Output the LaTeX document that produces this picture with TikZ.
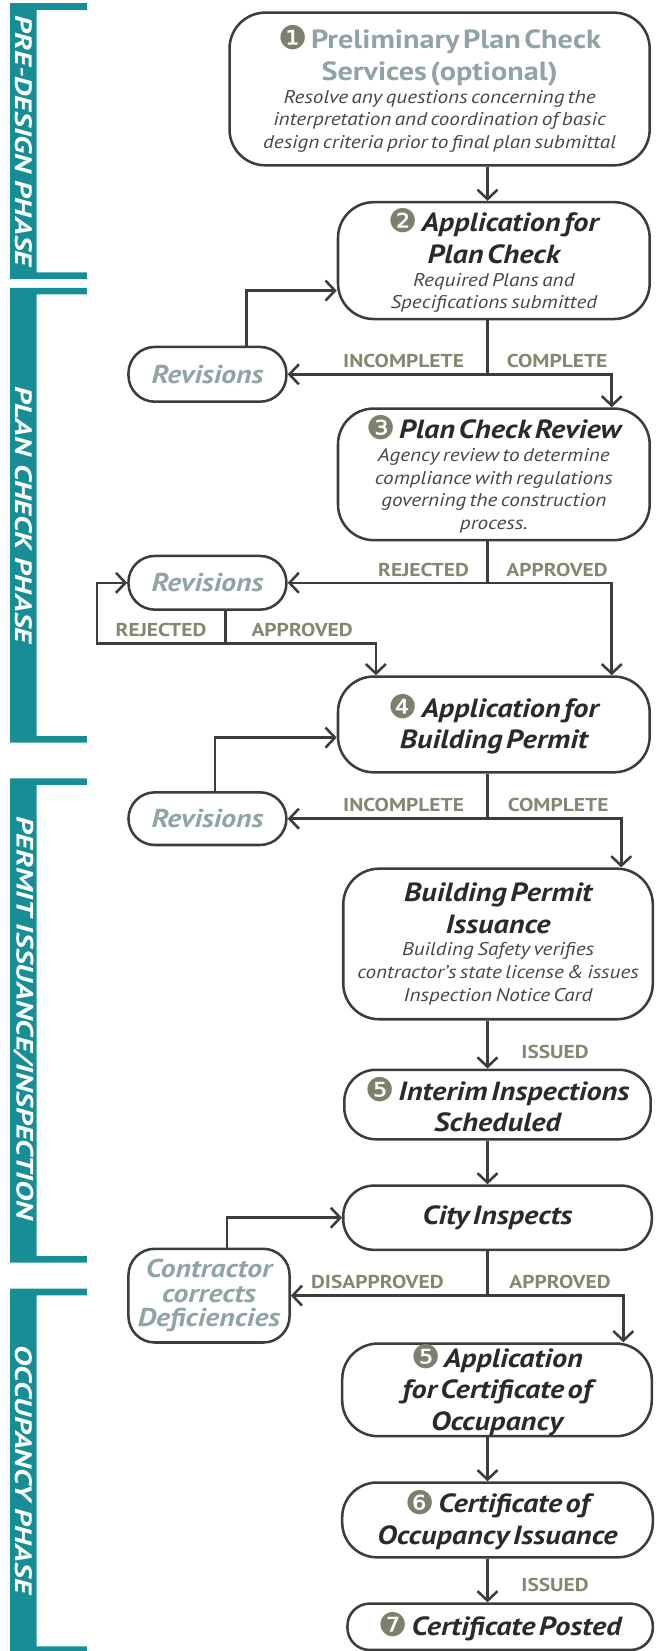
\documentclass[tikz,border=0pt]{standalone}
\usepackage{fontspec}
\setmainfont{PT Sans}[FakeStretch=1.15]
\newfontfamily\phasefont{PT Sans}[FakeStretch=1.3]
\newfontfamily\dingfont{DejaVu Sans}
\usetikzlibrary{arrows.meta,positioning,calc}

\definecolor{phaseteal}{HTML}{178E96}
\definecolor{linegrey}{HTML}{3A3C3E}
\definecolor{lblolive}{HTML}{868772}
\definecolor{numgrey}{HTML}{7E7F6C}
\definecolor{softteal}{HTML}{8FA4A5}
\definecolor{descgrey}{HTML}{474747}
\definecolor{titleblack}{HTML}{2A2A2A}

\newcommand{\stepno}[1]{{\dingfont\upshape\mdseries\fontsize{31}{26}\selectfont\color{numgrey}\raisebox{-1pt}{#1}}}
\newcommand{\ttl}{\bfseries\itshape\fontsize{25}{30}\selectfont}
\newcommand{\dsc}{\mdseries\itshape\fontsize{17.5}{21.5}\selectfont\color{descgrey}}

\begin{document}
\begin{tikzpicture}[x=1pt,y=-1pt,
    box/.style={draw=linegrey,line width=2.4pt,rounded corners=34pt,align=center,inner sep=0pt,text=titleblack},
    rev/.style={draw=linegrey,line width=2.4pt,rounded corners=25pt,align=center,inner sep=0pt,minimum width=150pt,text=softteal,font=\bfseries\itshape\fontsize{24.5}{23}\selectfont},
    link/.style={draw=linegrey,line width=2.4pt},
    arr/.style={link,-{Straight Barb[length=9pt,width=19pt]}},
    lbl/.style={inner sep=5pt,text=lblolive,font=\bfseries\fontsize{17.7}{17.7}\selectfont},
    phase/.style={rotate=-90,inner sep=0pt,text=white,font=\phasefont\bfseries\itshape\fontsize{22.5}{22.5}\selectfont}]

	\useasboundingbox (0,0) rectangle (624,1568);

	\fill[phaseteal] (9.5,3) -- (82.6,3) -- (82.6,9.3) -- (34.9,9.3) -- (34.9,258.7) -- (82.6,258.7) -- (82.6,265) -- (9.5,265) -- cycle;
	\fill[phaseteal] (9.5,273.3) -- (82.6,273.3) -- (82.6,279.6) -- (34.9,279.6) -- (34.9,699.1) -- (82.6,699.1) -- (82.6,705.4) -- (9.5,705.4) -- cycle;
	\fill[phaseteal] (9.5,739.2) -- (82.6,739.2) -- (82.6,745.5) -- (34.9,745.5) -- (34.9,1192.9) -- (82.6,1192.9) -- (82.6,1199.2) -- (9.5,1199.2) -- cycle;
	\fill[phaseteal] (9.5,1223.9) -- (82.6,1223.9) -- (82.6,1230.2) -- (34.9,1230.2) -- (34.9,1563.5) -- (82.6,1563.5) -- (82.6,1570) -- (9.5,1570) -- cycle;
	\node[phase] (ph1) at (22.2,134) {PRE-DESIGN PHASE};
	\node[phase] (ph2) at (22.2,489) {PLAN CHECK PHASE};
	\node[phase] (ph3) at (22.2,967) {PERMIT ISSUANCE/INSPECTION};
	\node[phase] (ph4) at (22.2,1396) {OCCUPANCY PHASE};

	\node[box,text width=399pt,minimum height=145pt] (n1) at (417.5,84.5)
		{{\color{softteal}\bfseries\fontsize{25}{30}\selectfont\stepno{❶} Preliminary Plan Check\\ Services (optional)\par}{\dsc Resolve any questions concerning the\\ interpretation and coordination of basic\\ design criteria prior to final plan submittal\par}};
	\node[box,text width=296pt,minimum height=111pt] (n2) at (469,247.5)
		{{\ttl\stepno{❷} Application for\\ Plan Check\par}{\dsc Required Plans and\\ Specifications submitted\par}};
	\node[rev,minimum height=52pt] (rev1) at (197,355.5) {Revisions};
	\node[box,text width=296pt,minimum height=125pt] (n3) at (469,450.5)
		{{\ttl\stepno{❸} Plan Check Review\par}{\dsc Agency review to determine\\ compliance with regulations\\ governing the construction\\ process.\par}};
	\node[rev,minimum height=51pt] (rev2) at (197,553.5) {Revisions};
	\node[box,text width=296pt,minimum height=91pt] (n4) at (469,688)
		{{\ttl\stepno{❹} Application for\\ Building Permit\par}};
	\node[rev,minimum height=50pt] (rev3) at (197,777.5) {Revisions};
	\node[box,text width=294pt,minimum height=143pt] (bpi) at (473,896.5)
		{{\ttl Building Permit\\ Issuance\par}{\dsc Building Safety verifies\\ contractor's state license \& issues\\ Inspection Notice Card\par}};
	\node[box,text width=291pt,minimum height=66pt,rounded corners=30pt] (n5) at (472.5,1049)
		{{\ttl\stepno{❺} Interim Inspections\\ Scheduled\par}};
	\node[box,text width=293pt,minimum height=61pt,rounded corners=29pt] (city) at (472.5,1156.5)
		{{\ttl City Inspects\par}};
	\node[rev,minimum width=153pt,minimum height=89pt] (con) at (198.5,1230.5)
		{Contractor\\ corrects\\ Deficiencies};
	\node[box,text width=294pt,minimum height=88pt] (n5b) at (472,1320)
		{{\ttl\stepno{❺} Application\\ for Certificate of\\ Occupancy\par}};
	\node[box,text width=295pt,minimum height=71pt,rounded corners=33pt] (n6) at (472.5,1443.5)
		{{\ttl\stepno{❻} Certificate of\\ Occupancy Issuance\par}};
	\node[box,text width=290pt,minimum height=44pt,rounded corners=21pt] (n7) at (475,1545)
		{{\ttl\stepno{❼} Certificate Posted\par}};

	\coordinate (tr) at (463,0);

	\draw[arr] (n1.south -| tr) -- (n2.north -| tr);
	\draw[link] (n2.south -| tr) -- (rev1.east -| tr) coordinate (k2);
	\draw[arr] (k2) -- (rev1.east) node[lbl,above,pos=0.42] (inc1) {INCOMPLETE};
	\draw[arr] (k2) -| ([xshift=112pt]n3.north) node[lbl,above,pos=0.28] (com1) {COMPLETE};
	\draw[arr] ([xshift=37pt]rev1.north) |- ([yshift=-28.5pt]n2.west);

	\draw[link] (n3.south -| tr) -- (rev2.east -| tr) coordinate (k3);
	\draw[arr] (k3) -- (rev2.east) node[lbl,above,pos=0.32] (rej1) {REJECTED};
	\draw[arr] (k3) -| ([xshift=112pt]n4.north) node[lbl,above,pos=0.28] (app1) {APPROVED};
	\coordinate (lp) at (214,611);
	\draw[link] ([xshift=17pt]rev2.south) -- (lp);
	\draw[arr] (lp) -- ++(-122,0) node[lbl,above,midway] (rej2) {REJECTED} |- (rev2.west);
	\draw[arr] (lp) -| ([xshift=-112pt]n4.north) node[lbl,above,pos=0.255] (app2) {APPROVED};
	\draw[arr] ([xshift=7pt]rev3.north) |- ([yshift=-12.5pt]n4.west);

	\draw[link] (n4.south -| tr) -- (rev3.east -| tr) coordinate (k5);
	\draw[arr] (k5) -- (rev3.east) node[lbl,above,pos=0.42] (inc2) {INCOMPLETE};
	\draw[arr] (k5) -| ([xshift=117pt]bpi.north) node[lbl,above,pos=0.264] (com2) {COMPLETE};

	\draw[arr] (bpi.south -| tr) -- (n5.north -| tr) node[lbl,anchor=west,xshift=26pt,pos=0.65] (iss1) {ISSUED};
	\draw[arr] (n5.south -| tr) -- (city.north -| tr);
	\draw[arr] ([xshift=17pt]con.north) |- (city.west);

	\draw[link] (city.south -| tr) -- (con.east -| tr) coordinate (k6);
	\draw[arr] (k6) -- (con.east) node[lbl,above,pos=0.56] (dis1) {DISAPPROVED};
	\draw[arr] (k6) -| ([xshift=120pt]n5b.north) node[lbl,above,pos=0.267] (app3) {APPROVED};

	\draw[arr] (n5b.south -| tr) -- (n6.north -| tr);
	\draw[arr] (n6.south -| tr) -- (n7.north -| tr) node[lbl,anchor=west,xshift=26pt,pos=0.6] (iss2) {ISSUED};

\end{tikzpicture}
\end{document}
